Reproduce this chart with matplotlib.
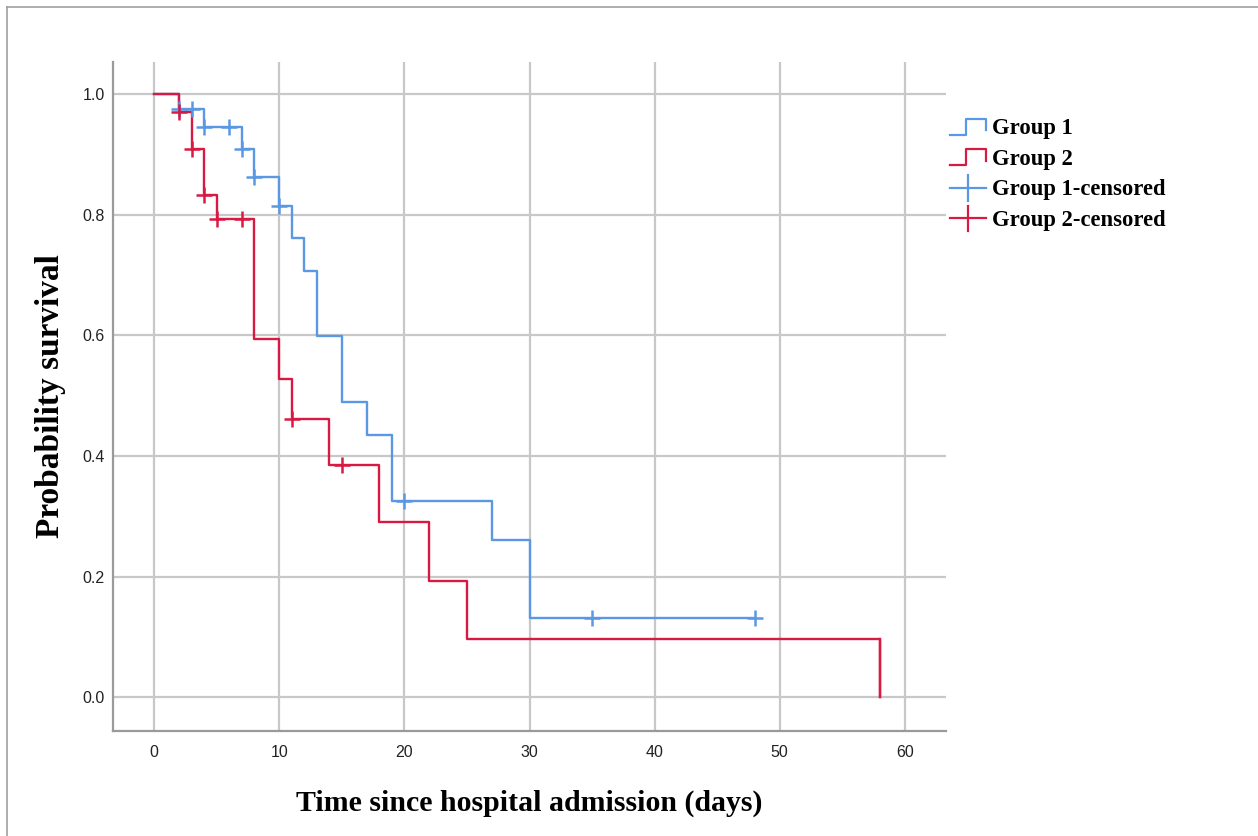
import matplotlib
matplotlib.use('Agg')
import matplotlib.pyplot as plt
from matplotlib.lines import Line2D
from matplotlib.legend_handler import HandlerBase

# Kaplan-Meier estimates (time in days, survival probability)
g1_times = [0, 2, 4, 7, 8, 10, 11, 12, 13, 15, 17, 19, 27, 30, 48]
g1_surv = [1.0, 0.975, 0.946, 0.908, 0.863, 0.814, 0.761, 0.706, 0.599, 0.489, 0.434, 0.326, 0.261, 0.131, 0.131]
g1_cens_t = [2, 3, 4, 6, 7, 8, 10, 20, 35, 48]
g1_cens_s = [0.975, 0.975, 0.946, 0.946, 0.908, 0.863, 0.814, 0.326, 0.131, 0.131]

g2_times = [0, 2, 3, 4, 5, 8, 10, 11, 14, 18, 22, 25, 58]
g2_surv = [1.0, 0.970, 0.908, 0.833, 0.793, 0.594, 0.528, 0.462, 0.385, 0.290, 0.193, 0.096, 0.0]
g2_cens_t = [2, 3, 4, 5, 7, 11, 15]
g2_cens_s = [0.970, 0.908, 0.833, 0.793, 0.793, 0.462, 0.385]

blue = '#5b98e4'
red = '#d81a42'


class StepHandler(HandlerBase):
    # little step icon like the SPSS legend
    def create_artists(self, legend, orig_handle, xdescent, ydescent,
                       width, height, fontsize, trans):
        x0, w, h = -xdescent, width, height
        xs = [x0, x0 + 0.45 * w, x0 + 0.45 * w, x0 + w, x0 + w]
        ys = [-0.05 * h, -0.05 * h, 0.95 * h, 0.95 * h, 0.25 * h]
        return [Line2D(xs, ys, color=orig_handle.get_color(), lw=1.6, transform=trans)]


class CrossHandler(HandlerBase):
    # horizontal line across the handle with a tick in the middle
    def create_artists(self, legend, orig_handle, xdescent, ydescent,
                       width, height, fontsize, trans):
        x0, w, h = -xdescent, width, height
        c = orig_handle.get_color()
        a = Line2D([x0, x0 + w], [0.45 * h, 0.45 * h], color=c, lw=1.6, transform=trans)
        b = Line2D([x0 + w / 2, x0 + w / 2], [-0.35 * h, 1.25 * h], color=c, lw=1.6, transform=trans)
        return [a, b]


fig = plt.figure(figsize=(12.58, 8.36), dpi=100)
ax = fig.add_axes([113 / 1258, 1 - 731 / 836, (946 - 113) / 1258, (731 - 62) / 836])

l1, = ax.step(g1_times, g1_surv, where='post', color=blue, lw=1.7, label='Group 1')
l2, = ax.step(g2_times, g2_surv, where='post', color=red, lw=1.7, label='Group 2')
ax.plot([58, 58], [g2_surv[-2], 0.0], color=red, lw=1.7)
c1, = ax.plot(g1_cens_t, g1_cens_s, ls='none', marker='+', ms=11, mew=1.8, color=blue, label='Group 1-censored')
c2, = ax.plot(g2_cens_t, g2_cens_s, ls='none', marker='+', ms=11, mew=1.8, color=red, label='Group 2-censored')

ax.set_xlim(-3.3, 63.3)
ax.set_ylim(-0.056, 1.053)
ax.set_xticks([0, 10, 20, 30, 40, 50, 60])
ax.set_yticks([0.0, 0.2, 0.4, 0.6, 0.8, 1.0])
ax.set_yticklabels(['0.0', '0.2', '0.4', '0.6', '0.8', '1.0'])
ax.grid(True, color='#c8c8c8', lw=1.6)
ax.set_axisbelow(True)
for s in ['top', 'right']:
    ax.spines[s].set_visible(False)
for s in ['left', 'bottom']:
    ax.spines[s].set_color('#9a9a9a')
    ax.spines[s].set_linewidth(1.6)
ax.tick_params(length=0, labelsize=11.5, labelcolor='#222222')
ax.tick_params(axis='y', pad=6)
ax.tick_params(axis='x', pad=10)
for lab in ax.get_xticklabels() + ax.get_yticklabels():
    lab.set_family('Liberation Sans')

ax.set_xlabel('Time since hospital admission (days)', family='Liberation Serif',
              fontweight='bold', fontsize=21.5)
ax.set_ylabel('Probability survival', family='Liberation Serif',
              fontweight='bold', fontsize=24)
ax.xaxis.set_label_coords(0.5, (731 - 803) / 669)
ax.xaxis.label.set_va('center')
ax.yaxis.set_label_coords((50 - 113) / 833, 0.5)
ax.yaxis.label.set_va('center')

leg = ax.legend([l1, l2, c1, c2], ['Group 1', 'Group 2', 'Group 1-censored', 'Group 2-censored'],
                handler_map={l1: StepHandler(), l2: StepHandler(), c1: CrossHandler(), c2: CrossHandler()},
                loc='upper left', bbox_to_anchor=(950 / 1258, 1 - 118 / 836),
                bbox_transform=fig.transFigure, frameon=False,
                prop={'family': 'Liberation Serif', 'weight': 'bold', 'size': 16.3},
                handlelength=1.6, handletextpad=0.25, labelspacing=0.42, borderaxespad=0,
                borderpad=0)

# outer frame (only left and top visible)
fig.add_artist(Line2D([7 / 1258, 7 / 1258], [0, 1 - 7 / 836], color='#a0a0a0', lw=1.2))
fig.add_artist(Line2D([7 / 1258, 1], [1 - 7 / 836, 1 - 7 / 836], color='#a0a0a0', lw=1.2))

fig.savefig('out.png', dpi=100)
